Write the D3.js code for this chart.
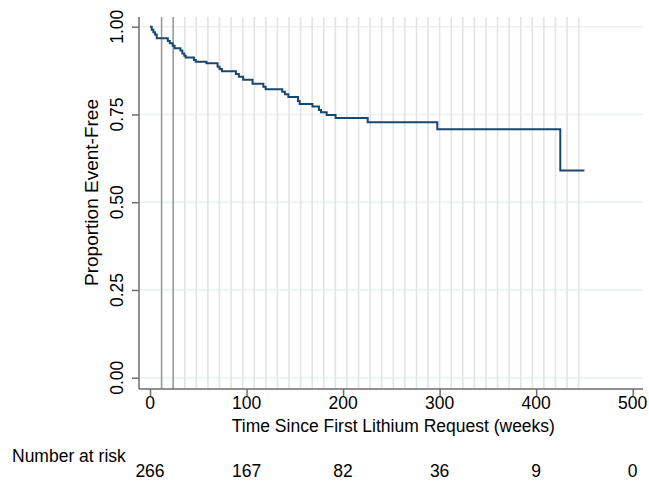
<!DOCTYPE html>
<html>
<head>
<meta charset="utf-8">
<script src="https://cdn.jsdelivr.net/npm/d3@7"></script>
<style>
  html, body { margin: 0; padding: 0; background: #fff; }
  svg { display: block; font-family: "Liberation Sans", Arial, Helvetica, sans-serif; }
</style>
</head>
<body>
<svg id="chart" width="649" height="481"></svg>
<script>
// ---- data ----
const eventTimes = [0, 1.8, 3.5, 5.2, 7, 18.5, 20.5, 23.5, 25.5, 31.5, 33.5, 35.5, 37, 45.5, 47.5, 58.5, 70, 72, 74.5,
  89, 92, 96.5, 106.2, 117.4, 119.8, 137, 139.8, 143.3, 153.3, 155, 168.3, 175, 177.1, 183, 192.2, 225.5, 297.6, 425];
const survival = [1.000, 0.991, 0.984, 0.978, 0.967, 0.959, 0.953, 0.946, 0.9385, 0.932, 0.924, 0.917, 0.912, 0.905, 0.900, 0.8957, 0.886, 0.8795, 0.873,
  0.865, 0.8575, 0.849, 0.8376, 0.829, 0.8217, 0.8148, 0.8074, 0.800, 0.788, 0.780, 0.7726, 0.7627, 0.756, 0.7484, 0.7396, 0.7276, 0.7077, 0.590];
const lastFollowUp = 450;
const xTicks = [0, 100, 200, 300, 400, 500];
const yTicks = [0, 0.25, 0.5, 0.75, 1];
const yTickLabels = ["0.00", "0.25", "0.50", "0.75", "1.00"];
const atRisk = [266, 167, 82, 36, 9, 0];
const refLinesDark = [12, 24];
const refLinesLight = [36, 48, 60, 72, 84, 96, 108, 120, 132, 144, 156, 168, 180, 192, 204, 216, 228, 240,
  252, 264, 276, 288, 300, 312, 324, 336, 348, 360, 372, 384, 396, 408, 420, 432, 444];
const xTitle = "Time Since First Lithium Request (weeks)";
const yTitle = "Proportion Event-Free";
const riskLabel = "Number at risk";

// ---- layout ----
const svg = d3.select("#chart");
const plotLeft = 139, plotRight = 643, plotTop = 17, plotBottom = 389;
const x = d3.scaleLinear().domain([0, 500]).range([150, 632.7]);
const y = d3.scaleLinear().domain([0, 1]).range([377.7, 26.7]);
const fontSize = 17.5;
const axisColor = "#6e6e6e";

// horizontal grid lines
svg.append("g").selectAll("line").data(yTicks).join("line")
  .attr("x1", plotLeft).attr("x2", plotRight)
  .attr("y1", d => y(d)).attr("y2", d => y(d))
  .attr("stroke", "#eaf2f3").attr("stroke-width", 1.5);

// vertical reference lines
svg.append("g").selectAll("line").data(refLinesLight).join("line")
  .attr("x1", d => x(d)).attr("x2", d => x(d))
  .attr("y1", plotTop).attr("y2", plotBottom)
  .attr("stroke", "#e4e4e4").attr("stroke-width", 1.6);
svg.append("g").selectAll("line").data(refLinesDark).join("line")
  .attr("x1", d => x(d)).attr("x2", d => x(d))
  .attr("y1", plotTop).attr("y2", plotBottom)
  .attr("stroke", "#9a9a9a").attr("stroke-width", 1.6);

// KM curve
const pts = eventTimes.map((t, i) => [t, survival[i]]);
pts.push([lastFollowUp, survival[survival.length - 1]]);
const line = d3.line().x(d => x(d[0])).y(d => y(d[1])).curve(d3.curveStepAfter);
svg.append("path").datum(pts)
  .attr("d", line).attr("fill", "none")
  .attr("stroke", "#1a476f").attr("stroke-width", 2);

// y axis
const yAxis = d3.axisLeft(y).tickValues(yTicks).tickSize(7).tickFormat("");
const gy = svg.append("g").attr("transform", `translate(${plotLeft},0)`).call(yAxis);
gy.select(".domain").remove();
gy.selectAll(".tick line").attr("stroke", axisColor).attr("stroke-width", 1.5);
svg.append("line").attr("x1", plotLeft).attr("x2", plotLeft).attr("y1", plotTop).attr("y2", plotBottom)
  .attr("stroke", axisColor).attr("stroke-width", 1.5);
svg.append("g").selectAll("text").data(yTicks).join("text")
  .attr("transform", d => `translate(123,${y(d)}) rotate(-90)`)
  .attr("text-anchor", "middle").attr("font-size", fontSize).attr("fill", "#000")
  .text((d, i) => yTickLabels[i]);
svg.append("text")
  .attr("transform", `translate(98,192.5) rotate(-90)`)
  .attr("text-anchor", "middle").attr("font-size", 19).attr("fill", "#000")
  .text(yTitle);

// x axis
const xAxis = d3.axisBottom(x).tickValues(xTicks).tickSize(7).tickFormat("");
const gx = svg.append("g").attr("transform", `translate(0,${plotBottom})`).call(xAxis);
gx.select(".domain").remove();
gx.selectAll(".tick line").attr("stroke", axisColor).attr("stroke-width", 1.5);
svg.append("line").attr("x1", plotLeft).attr("x2", plotRight).attr("y1", plotBottom).attr("y2", plotBottom)
  .attr("stroke", axisColor).attr("stroke-width", 1.5);
svg.append("g").selectAll("text").data(xTicks).join("text")
  .attr("x", d => x(d)).attr("y", 408.5)
  .attr("text-anchor", "middle").attr("font-size", fontSize).attr("fill", "#000")
  .text(d => d);
svg.append("text")
  .attr("x", (x(0) + x(500)) / 2 + 2).attr("y", 431.5)
  .attr("text-anchor", "middle").attr("font-size", fontSize).attr("fill", "#000")
  .text(xTitle);

// number at risk
svg.append("text").attr("x", 12).attr("y", 461.5)
  .attr("font-size", fontSize).attr("fill", "#000").text(riskLabel);
svg.append("g").selectAll("text").data(atRisk).join("text")
  .attr("x", (d, i) => x(xTicks[i])).attr("y", 477)
  .attr("text-anchor", "middle").attr("font-size", fontSize).attr("fill", "#000")
  .text(d => d);
</script>
</body>
</html>
